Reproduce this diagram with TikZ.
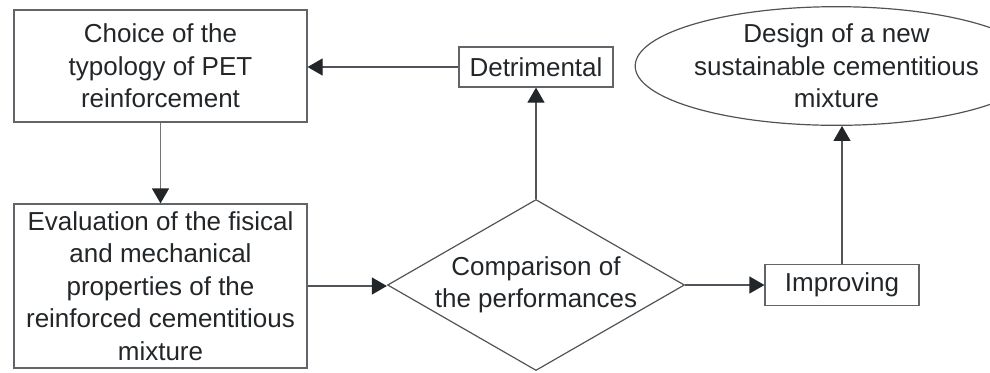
\documentclass[tikz,border=0pt]{standalone}
\usepackage{fontspec}
\setmainfont{Liberation Sans}
\usetikzlibrary{positioning,shapes.geometric,arrows.meta}

\definecolor{inkdark}{HTML}{222629}
\definecolor{linegray}{HTML}{505458}

\begin{document}
\begin{tikzpicture}[x=0.5pt, y=-0.5pt, on grid,
        font=\fontsize{13pt}{16.2pt}\selectfont, text=inkdark,
        >={Triangle[length=7.5pt,width=8.5pt]}]

        \tikzstyle{block} = [rectangle, draw=linegray!90, line width=0.6pt, inner sep=0pt, align=center]
        \tikzstyle{decision} = [diamond, draw=linegray, line width=0.6pt, inner sep=0pt, align=center]
        \tikzstyle{goal} = [ellipse, draw=linegray, line width=0.6pt, inner sep=0pt, align=center]
        \tikzstyle{line} = [draw=linegray, line width=0.6pt, ->, color=linegray, arrows={->[color=inkdark]}]

        \useasboundingbox (0,0) rectangle (990,372);

        \node [block, minimum width=146.5pt, minimum height=56pt] (choice) at (160.5,66)
            {Choice of the\\typology of PET\\reinforcement};
        \node [block, minimum width=146.5pt, minimum height=82pt, below=110pt of choice] (eval)
            {Evaluation of the fisical\\and mechanical\\properties of the\\reinforced cementitious\\mixture};
        \node [decision, minimum width=148.5pt, minimum height=85.5pt, right=187.75pt of eval, yshift=0.5pt,
            label={[align=center, text=inkdark]center:Comparison of\\the performances}] (compare) {};
        \node [block, minimum width=77pt, minimum height=20pt, above=109pt of compare] (detr) {Detrimental};
        \node [block, minimum width=77pt, minimum height=20.5pt, right=153pt of compare] (improve) {Improving};
        \node [goal, minimum width=146.5pt, minimum height=56.5pt, above=109.5pt of improve, xshift=-2.75pt] (design)
            {Design of a new\\sustainable cementitious\\mixture};

        \draw [line, draw=linegray!80] (choice) -- (eval);
        \draw [line] (eval.east) -- (eval.east -| compare.west);
        \draw [line] (compare) -- (detr);
        \draw [line] (detr.west) -- (detr.west -| choice.east);
        \draw [line] (compare) -- (improve);
        \draw [line] (improve.north) -- (improve.north |- design.south);

    \end{tikzpicture}
\end{document}
